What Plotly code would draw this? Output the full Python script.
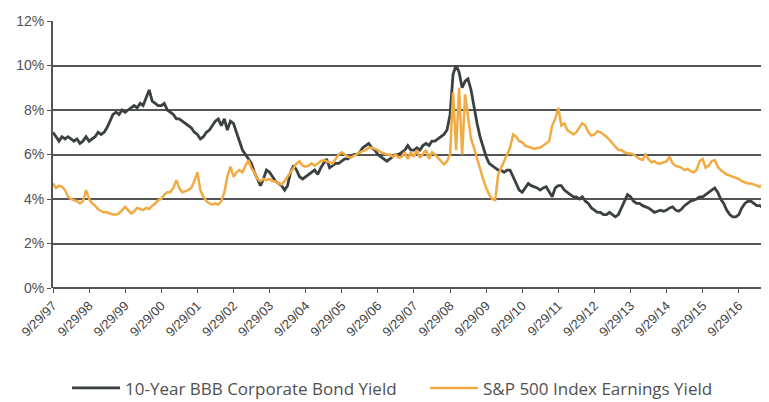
"""
BBB corporate bond yield vs. S&P 500 earnings yield, 1997-2017.
"""

import pandas as pd
import plotly.graph_objects as go


# monthly readings, starting 9/29/97
BOND_YIELD = [
    7.0, 6.8, 6.6, 6.8, 6.7, 6.8, 6.7, 6.6, 6.7, 6.5, 6.6, 6.8,
    6.6, 6.7, 6.8, 7.0, 6.9, 7.0, 7.2, 7.5, 7.8, 7.9, 7.8, 8.0,
    7.9, 8.0, 8.1, 8.2, 8.1, 8.3, 8.2, 8.6, 8.9, 8.4, 8.3, 8.2,
    8.2, 8.3, 8.0, 7.9, 7.8, 7.6, 7.6, 7.5, 7.4, 7.3, 7.2, 7.0,
    6.9, 6.7, 6.8, 7.0, 7.1, 7.3, 7.5, 7.6, 7.3, 7.6, 7.1, 7.5,
    7.4, 7.0, 6.6, 6.2, 6.0, 5.8, 5.6, 5.2, 4.9, 4.6, 4.9, 5.3,
    5.2, 5.0, 4.8, 4.7, 4.6, 4.4, 4.6, 5.2, 5.5, 5.3, 5.0, 4.9,
    5.0, 5.1, 5.2, 5.3, 5.1, 5.4, 5.6, 5.8, 5.4, 5.5, 5.6, 5.6,
    5.7, 5.8, 5.8, 5.9, 6.0, 6.0, 6.1, 6.3, 6.4, 6.5, 6.3, 6.2,
    6.0, 5.9, 5.8, 5.7, 5.8, 5.9, 6.0, 6.0, 6.1, 6.2, 6.4, 6.2,
    6.2, 6.3, 6.2, 6.4, 6.5, 6.4, 6.6, 6.6, 6.7, 6.8, 6.9, 7.1,
    7.8, 9.6, 10.0, 9.7, 9.0, 9.3, 9.4, 8.9, 8.1, 7.4, 6.8, 6.3,
    5.9, 5.6, 5.5, 5.4, 5.3, 5.3, 5.2, 5.3, 5.3, 5.0, 4.7, 4.4,
    4.3, 4.5, 4.7, 4.6, 4.55, 4.5, 4.4, 4.5, 4.55, 4.3, 4.1, 4.5,
    4.6, 4.6, 4.4, 4.3, 4.2, 4.1, 4.1, 4.0, 4.1, 3.9, 3.8, 3.6,
    3.5, 3.4, 3.4, 3.3, 3.3, 3.4, 3.3, 3.2, 3.3, 3.6, 3.9, 4.2,
    4.1, 3.9, 3.8, 3.8, 3.7, 3.65, 3.6, 3.5, 3.4, 3.45, 3.5, 3.45,
    3.5, 3.6, 3.65, 3.5, 3.45, 3.55, 3.7, 3.8, 3.9, 3.95, 4.0, 4.1,
    4.1, 4.2, 4.3, 4.4, 4.5, 4.3, 4.0, 3.8, 3.5, 3.3, 3.2, 3.2,
    3.3, 3.6, 3.8, 3.9, 3.9, 3.8, 3.7, 3.7, 3.6, 3.55, 3.55,
]

EARNINGS_YIELD = [
    4.7, 4.5, 4.6, 4.55, 4.4, 4.1, 4.0, 3.95, 3.9, 3.8, 3.9, 4.4,
    4.0, 3.8, 3.7, 3.55, 3.45, 3.4, 3.4, 3.35, 3.3, 3.3, 3.35, 3.5,
    3.65, 3.5, 3.35, 3.45, 3.6, 3.55, 3.5, 3.6, 3.55, 3.7, 3.8, 3.95,
    4.0, 4.2, 4.3, 4.3, 4.5, 4.85, 4.5, 4.3, 4.35, 4.4, 4.5, 4.8,
    5.2, 4.4, 4.1, 3.9, 3.8, 3.75, 3.8, 3.75, 3.9, 4.3, 5.0, 5.45,
    5.0, 5.2, 5.3, 5.2, 5.5, 5.75, 5.4, 5.2, 4.9, 4.8, 4.9, 4.85,
    4.9, 4.8, 4.8, 4.7, 4.65, 4.8, 5.0, 5.2, 5.4, 5.6, 5.7, 5.5,
    5.45, 5.5, 5.6, 5.5, 5.6, 5.7, 5.75, 5.7, 5.65, 5.6, 5.8, 6.0,
    6.1, 6.0, 5.9, 5.85, 5.95, 6.0, 6.1, 6.15, 6.2, 6.3, 6.3, 6.25,
    6.2, 6.1, 6.05, 6.0, 6.0, 5.9, 6.0, 5.85, 5.9, 6.1, 5.8, 6.1,
    5.9, 6.2, 5.85, 6.0, 6.2, 5.8, 6.1, 6.0, 5.85, 5.7, 5.55, 5.7,
    6.0, 8.8, 6.2, 9.0, 6.0, 8.7, 7.6, 6.7, 6.3, 5.8, 5.4, 4.9,
    4.5, 4.2, 4.0, 3.95, 5.1, 5.4, 5.75, 6.0, 6.3, 6.9, 6.8, 6.6,
    6.55, 6.4, 6.35, 6.3, 6.25, 6.3, 6.3, 6.4, 6.5, 6.6, 7.3, 7.6,
    8.1, 7.3, 7.4, 7.1, 7.0, 6.9, 7.0, 7.2, 7.4, 7.3, 7.0, 6.85,
    6.9, 7.05, 7.0, 6.9, 6.8, 6.65, 6.5, 6.35, 6.2, 6.2, 6.1, 6.05,
    6.05, 6.0, 5.9, 5.8, 5.75, 6.0, 5.8, 5.65, 5.7, 5.6, 5.6, 5.65,
    5.7, 5.9, 5.6, 5.5, 5.45, 5.4, 5.3, 5.35, 5.25, 5.2, 5.3, 5.7,
    5.8, 5.4, 5.5, 5.7, 5.75, 5.45, 5.3, 5.2, 5.1, 5.05, 5.0, 4.95,
    4.9, 4.8, 4.75, 4.7, 4.7, 4.65, 4.6, 4.55, 4.65, 4.7, 4.7,
]

TICK_YEARS = list(range(1997, 2017))
TICK_LABELS = [f"9/29/{y % 100:02d}" for y in TICK_YEARS]

START = pd.Timestamp("1997-09-29")
dates = [START + pd.DateOffset(months=i) for i in range(len(BOND_YIELD))]
tick_dates = [pd.Timestamp(f"{y}-09-29") for y in TICK_YEARS]

DARK = "#3b4040"
ORANGE = "#f2ab42"
GRID = "#555555"
TEXT = "#444444"

fig = go.Figure()
fig.add_trace(go.Scatter(
    x=dates, y=BOND_YIELD, mode="lines",
    name="10-Year BBB Corporate Bond Yield",
    line=dict(color=DARK, width=2.8),
))
fig.add_trace(go.Scatter(
    x=dates, y=EARNINGS_YIELD, mode="lines",
    name="S&P 500 Index Earnings Yield",
    line=dict(color=ORANGE, width=2.5),
))

# page body adds an 8px margin, so the figure is 8px smaller than the window
fig.update_layout(
    width=761, height=394,
    margin=dict(l=45, r=0, t=13, b=114, autoexpand=False),
    paper_bgcolor="white",
    plot_bgcolor="white",
    font=dict(family="Liberation Sans, Arial, sans-serif", color=TEXT, size=13),
    showlegend=True,
    legend=dict(
        orientation="h", xref="container", x=0.548, xanchor="center",
        y=-0.376, yanchor="middle",
        font=dict(family="Open Sans, sans-serif", size=17, color="#505050"),
        itemwidth=48, entrywidth=295, traceorder="normal",
    ),
    xaxis=dict(
        range=[START, pd.Timestamp("2017-07-31")],
        tickvals=tick_dates, ticktext=TICK_LABELS, tickangle=-45,
        ticks="outside", ticklen=4, tickcolor=GRID,
        tickfont=dict(size=13, color=TEXT),
        showgrid=False, showline=False, zeroline=False, automargin=False,
    ),
    yaxis=dict(
        range=[0, 12], dtick=2, ticksuffix="%",
        ticks="outside", ticklen=4, tickcolor=GRID,
        tickfont=dict(size=14, color="#505050"),
        showgrid=True, gridcolor=GRID, gridwidth=1.8,
        showline=True, linecolor=GRID, linewidth=2,
        zeroline=True, zerolinecolor=GRID, zerolinewidth=1.8,
        automargin=False,
    ),
)

fig.write_html("out.html")
